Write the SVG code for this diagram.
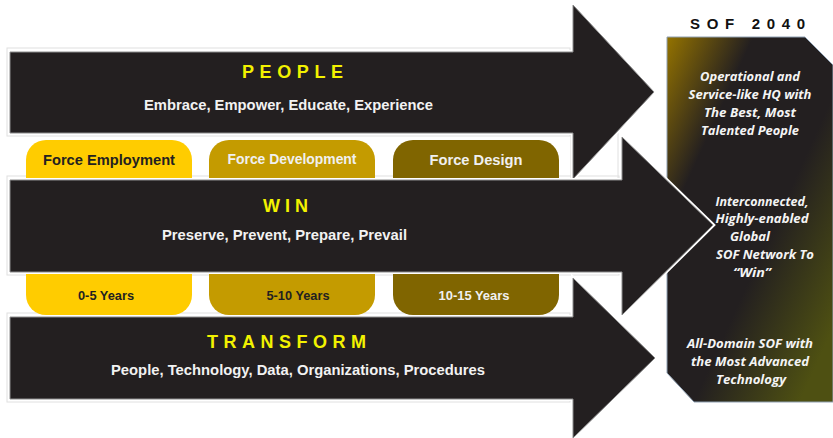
<svg xmlns="http://www.w3.org/2000/svg" width="833" height="438" viewBox="0 0 833 438">
<style>
.arrow-halo{fill:none;stroke:#ffffff;stroke-width:4;stroke-linejoin:miter}
.arrow{fill:#231f20;stroke:#8c8c8c;stroke-width:1;stroke-linejoin:miter}
.frame{fill:none;stroke:#e0e0e0;stroke-width:1}
.title{font-family:"Liberation Sans",Arial,sans-serif;font-weight:bold;font-size:18px;fill:#f2f200}
.sub{font-family:"Liberation Sans",Arial,sans-serif;font-weight:bold;font-size:14.5px;fill:#f2f2f2}
.box-t{font-family:"Liberation Sans",Arial,sans-serif;font-weight:bold;font-size:14px}
.box-y{font-family:"Liberation Sans",Arial,sans-serif;font-weight:bold;font-size:12.5px}
.dark{fill:#231f20}
.light{fill:#f0f0f0}
.panel-t{font-family:"Open Sans","Liberation Sans",Arial,sans-serif;font-weight:bold;font-style:italic;font-size:12.5px;fill:#f4f4f4}
.head{font-family:"Liberation Sans",Arial,sans-serif;font-weight:bold;font-size:15px;fill:#111111}
</style>
<defs>
<linearGradient id="panelGrad" x1="0" y1="0" x2="1" y2="1">
<stop offset="0" stop-color="#947300"/>
<stop offset="0.26" stop-color="#231f20"/>
<stop offset="0.58" stop-color="#231f20"/>
<stop offset="0.9" stop-color="#4e5012"/>
</linearGradient>
</defs>
<rect width="833" height="438" fill="#ffffff"/>

<g id="frames">
<rect class="frame" x="7" y="48" width="563" height="88"/>
<rect class="frame" x="7" y="176" width="612" height="99"/>
<rect class="frame" x="7" y="313" width="563" height="89"/>
<rect class="frame" x="571" y="133" width="47" height="47"/>
</g>

<g id="sof2040">
<text class="head" x="690" y="29" textLength="115" lengthAdjust="spacing">SOF 2040</text>
<path d="M667,37 L805,37 L833,65 L833,402 L694,402 L667,373 Z" fill="url(#panelGrad)" stroke="#8fa0b2" stroke-width="1"/>
<text class="panel-t" x="750" y="81" text-anchor="middle" textLength="100" lengthAdjust="spacingAndGlyphs">Operational and</text>
<text class="panel-t" x="750" y="99" text-anchor="middle" textLength="123" lengthAdjust="spacingAndGlyphs">Service-like HQ with</text>
<text class="panel-t" x="750" y="117" text-anchor="middle" textLength="92" lengthAdjust="spacingAndGlyphs">The Best, Most</text>
<text class="panel-t" x="750" y="135" text-anchor="middle" textLength="98" lengthAdjust="spacingAndGlyphs">Talented People</text>
<text class="panel-t" x="762" y="206" text-anchor="middle" textLength="93" lengthAdjust="spacingAndGlyphs">Interconnected,</text>
<text class="panel-t" x="762" y="223" text-anchor="middle" textLength="93" lengthAdjust="spacingAndGlyphs">Highly-enabled</text>
<text class="panel-t" x="750" y="241" text-anchor="middle" textLength="40" lengthAdjust="spacingAndGlyphs">Global</text>
<text class="panel-t" x="765" y="259" text-anchor="middle" textLength="98" lengthAdjust="spacingAndGlyphs">SOF Network To</text>
<text class="panel-t" x="752" y="277" text-anchor="middle" textLength="38" lengthAdjust="spacingAndGlyphs">“Win”</text>
<text class="panel-t" x="750" y="348" text-anchor="middle" textLength="126" lengthAdjust="spacingAndGlyphs">All-Domain SOF with</text>
<text class="panel-t" x="750" y="366" text-anchor="middle" textLength="118" lengthAdjust="spacingAndGlyphs">the Most Advanced</text>
<text class="panel-t" x="751" y="384" text-anchor="middle" textLength="70" lengthAdjust="spacingAndGlyphs">Technology</text>
</g>

<g id="force-employment">
<rect x="26" y="140" width="166" height="175" rx="20" fill="#ffcc00"/>
<text class="box-t dark" x="109" y="165" text-anchor="middle" textLength="132" lengthAdjust="spacingAndGlyphs">Force Employment</text>
<text class="box-y dark" x="106" y="300" text-anchor="middle" textLength="56" lengthAdjust="spacingAndGlyphs">0-5 Years</text>
</g>
<g id="force-development">
<rect x="209" y="140" width="166" height="175" rx="20" fill="#c49b00"/>
<text class="box-t light" x="292" y="164" text-anchor="middle" textLength="129" lengthAdjust="spacingAndGlyphs">Force Development</text>
<text class="box-y dark" x="298" y="300" text-anchor="middle" textLength="63" lengthAdjust="spacingAndGlyphs">5-10 Years</text>
</g>
<g id="force-design">
<rect x="393" y="140" width="166" height="175" rx="20" fill="#806500"/>
<text class="box-t light" x="476" y="165" text-anchor="middle" textLength="93" lengthAdjust="spacingAndGlyphs">Force Design</text>
<text class="box-y light" x="474" y="300" text-anchor="middle" textLength="71" lengthAdjust="spacingAndGlyphs">10-15 Years</text>
</g>

<g id="connectors">
<g id="people">
<polygon class="arrow-halo" points="10,52 573,52 573,5 654,92 573,179 573,133 10,133"/>
<polygon class="arrow" points="10,52 573,52 573,5 654,92 573,179 573,133 10,133"/>
<text class="title" x="242" y="78" textLength="101" lengthAdjust="spacing">PEOPLE</text>
<text class="sub" x="144" y="110" textLength="289" lengthAdjust="spacingAndGlyphs">Embrace, Empower, Educate, Experience</text>
</g>
<g id="win">
<polygon class="arrow-halo" points="10,180 622,180 622,137 713,225 622,315 622,272 10,272"/>
<polygon class="arrow" points="10,180 622,180 622,137 713,225 622,315 622,272 10,272"/>
<text class="title" x="263" y="212" textLength="45" lengthAdjust="spacing">WIN</text>
<text class="sub" x="162" y="240" textLength="245" lengthAdjust="spacingAndGlyphs">Preserve, Prevent, Prepare, Prevail</text>
</g>
<g id="transform">
<polygon class="arrow-halo" points="10,317 573,317 573,278 655,358 573,438 573,399 10,399"/>
<polygon class="arrow" points="10,317 573,317 573,278 655,358 573,438 573,399 10,399"/>
<text class="title" x="207" y="348" textLength="159" lengthAdjust="spacing">TRANSFORM</text>
<text class="sub" x="111" y="375" textLength="374" lengthAdjust="spacingAndGlyphs">People, Technology, Data, Organizations, Procedures</text>
</g>
</g>
</svg>
